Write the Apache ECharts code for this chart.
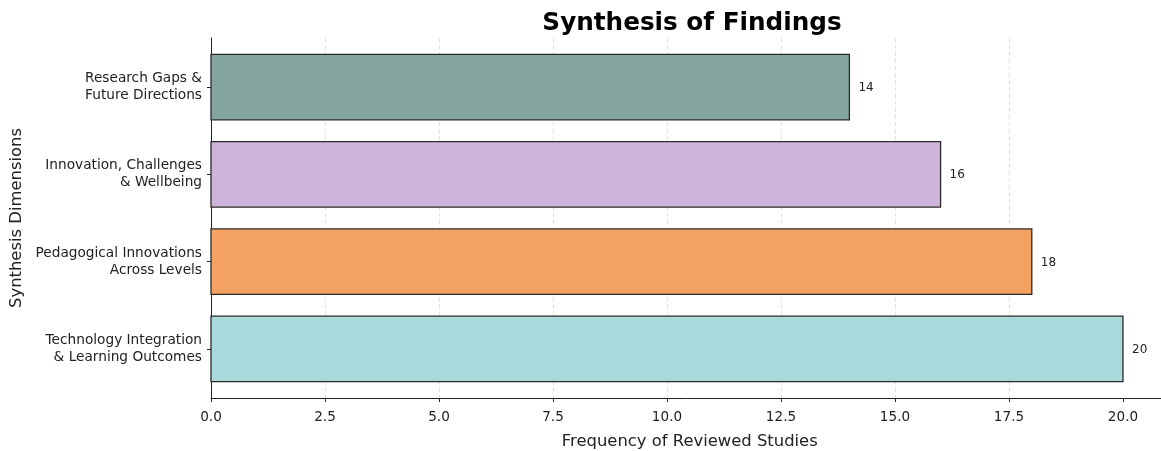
<!DOCTYPE html>
<html>
<head>
<meta charset="utf-8">
<script src="https://cdn.jsdelivr.net/npm/echarts@6/dist/echarts.min.js"></script>
<style>
  html, body { margin: 0; padding: 0; background: #fff; }
  #chart { width: 1161px; height: 451px; }
</style>
</head>
<body>
<div id="chart"></div>
<script>
// Synthesis dimensions, listed bottom to top
const categories = [
  'Technology Integration\n& Learning Outcomes',
  'Pedagogical Innovations\nAcross Levels',
  'Innovation, Challenges\n& Wellbeing',
  'Research Gaps &\nFuture Directions'
];
const frequencies = [20, 18, 16, 14];
const barColors = ['#a8dadc', '#f4a261', '#cdb4db', '#84a59d'];
const xTicks = [0, 2.5, 5, 7.5, 10, 12.5, 15, 17.5, 20];
const xMax = 21;

// bar thickness in category units, with a 5% pad around the bar extent
const barHeight = 0.75;
const yPad = 0.05 * ((categories.length - 1) + barHeight);
const yMin = -barHeight / 2 - yPad;
const yMax = (categories.length - 1) + barHeight / 2 + yPad;

const FONT = 'DejaVu Sans';
const chart = echarts.init(document.getElementById('chart'));

chart.setOption({
  backgroundColor: '#ffffff',
  animation: false,
  title: {
    text: 'Synthesis of Findings',
    left: 687,
    top: 6,
    textAlign: 'center',
    textStyle: { fontFamily: FONT, fontSize: 24.7, fontWeight: 'bold', color: '#000' }
  },
  // the value axis runs a little past the right edge of the canvas
  grid: { left: 211, right: -7.6, top: 38, bottom: 53, outerBoundsMode: 'none', containLabel: false },
  xAxis: {
    type: 'value',
    min: 0,
    max: xMax,
    name: 'Frequency of Reviewed Studies',
    nameLocation: 'middle',
    nameGap: 36,
    nameTextStyle: { fontFamily: FONT, fontSize: 16.4, color: '#222' },
    axisLine: { show: true, onZero: false, lineStyle: { color: '#222', width: 1 } },
    axisTick: { show: true, customValues: xTicks, length: 4, lineStyle: { color: '#222' } },
    axisLabel: {
      customValues: xTicks,
      margin: 12,
      fontFamily: FONT,
      fontSize: 13.6,
      color: '#222',
      formatter: v => v.toFixed(1)
    },
    splitLine: {
      show: true,
      showMinLine: false,
      showMaxLine: false,
      lineStyle: { color: '#e2e2e2', type: [4, 3], width: 1 }
    }
  },
  yAxis: {
    type: 'value',
    min: yMin,
    max: yMax,
    name: 'Synthesis Dimensions',
    nameLocation: 'middle',
    nameGap: 181,
    nameRotate: 90,
    nameTextStyle: { fontFamily: FONT, fontSize: 16.4, color: '#222' },
    axisLine: { show: true, onZero: false, lineStyle: { color: '#222', width: 1 } },
    axisTick: { show: true, customValues: categories.map((_, i) => i), length: 4, lineStyle: { color: '#222' } },
    axisLabel: {
      customValues: categories.map((_, i) => i),
      margin: 9,
      fontFamily: FONT,
      fontSize: 13.7,
      lineHeight: 17,
      padding: [3, 0, 0, 0],
      color: '#222',
      align: 'right',
      formatter: v => categories[Math.round(v)] || ''
    },
    splitLine: { show: false }
  },
  series: [{
    type: 'custom',
    encode: { x: 0, y: 1 },
    data: frequencies.map((v, i) => [v, i]),
    renderItem: (params, api) => {
      const value = api.value(0);
      const idx = api.value(1);
      const start = api.coord([0, idx]);
      const end = api.coord([value, idx]);
      const h = api.size([0, barHeight])[1];
      return {
        type: 'group',
        children: [
          {
            type: 'rect',
            shape: { x: start[0], y: start[1] - h / 2, width: end[0] - start[0], height: h },
            style: { fill: barColors[idx], stroke: '#2a2a2a', lineWidth: 1.3 }
          },
          {
            type: 'text',
            x: end[0] + 9,
            y: end[1] + 1,
            style: {
              text: String(value),
              fontFamily: FONT,
              fontSize: 12,
              fill: '#222',
              align: 'left',
              verticalAlign: 'middle'
            }
          }
        ]
      };
    }
  }]
});
</script>
</body>
</html>
